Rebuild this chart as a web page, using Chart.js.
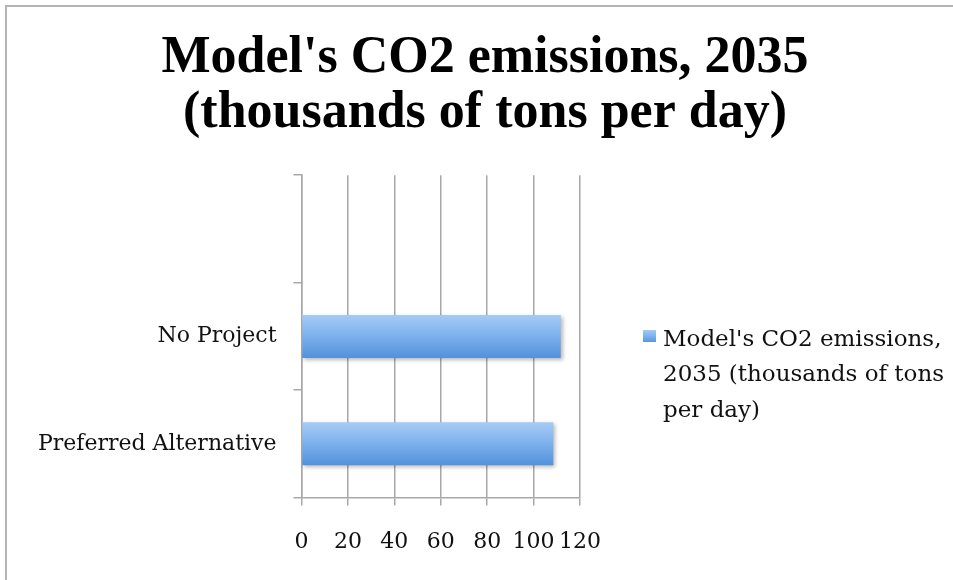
<!DOCTYPE html>
<html>
<head>
<meta charset="utf-8">
<title>Model's CO2 emissions, 2035</title>
<script src="https://cdn.jsdelivr.net/npm/chart.js@4"></script>
<style>
    html, body { margin: 0; padding: 0; background: #fff; overflow: hidden; }
    .frame {
        position: absolute;
        left: 5px;
        top: 5px;
        width: 956px;
        height: 573px;
        border-left: 2px solid #b4b4b4;
        border-top: 2px solid #b4b4b4;
    }
    #co2Chart { display: block; }
</style>
</head>
<body>
<div class="frame">
    <canvas id="co2Chart" width="956" height="573"></canvas>
</div>
<script>
// 데이터
const categories = ['', 'No Project', 'Preferred Alternative'];
const emissions = [null, 111.7, 108.5];
const seriesName = "Model's CO2 emissions, 2035 (thousands of tons per day)";
const titleLines = ["Model's CO2 emissions, 2035", '(thousands of tons per day)'];
const legendLines = ["Model's CO2 emissions,", '2035 (thousands of tons', 'per day)'];
const xTicks = [0, 20, 40, 60, 80, 100, 120];

const serif = "'DejaVu Serif', 'Liberation Serif', serif";
const gridColor = '#a8a8a8';

// 막대 그라데이션 (위: 밝은 파랑, 아래: 진한 파랑)
function barGradient(ctx, top, bottom) {
    const g = ctx.createLinearGradient(0, top, 0, bottom);
    g.addColorStop(0, '#a6cbf6');
    g.addColorStop(0.5, '#7cb0ec');
    g.addColorStop(1, '#5391dc');
    return g;
}

// 막대 그림자
const shadowPlugin = {
    id: 'barShadow',
    beforeDatasetsDraw(chart) {
        const ctx = chart.ctx;
        ctx.save();
        ctx.shadowColor = 'rgba(0, 0, 0, 0.28)';
        ctx.shadowBlur = 4;
        ctx.shadowOffsetX = 2;
        ctx.shadowOffsetY = 2;
    },
    afterDatasetsDraw(chart) {
        chart.ctx.restore();
    }
};

// 오른쪽 범례 (여러 줄)
const sideLegend = {
    id: 'sideLegend',
    afterDraw(chart) {
        const ctx = chart.ctx;
        const x = chart.chartArea.right + 63;
        const y = 339;
        ctx.save();
        ctx.fillStyle = barGradient(ctx, y - 16, y - 3);
        ctx.fillRect(x, y - 16, 13, 12);
        ctx.fillStyle = '#111';
        ctx.font = '23px ' + serif;
        ctx.textBaseline = 'alphabetic';
        legendLines.forEach((line, i) => {
            ctx.fillText(line, x + 20, y + i * 35.3);
        });
        ctx.restore();
    }
};

const ctx = document.getElementById('co2Chart').getContext('2d');

new Chart(ctx, {
    type: 'bar',
    data: {
        labels: categories,
        datasets: [{
            label: seriesName,
            data: emissions,
            backgroundColor: function(context) {
                const chart = context.chart;
                if (!chart.chartArea) return '#7cb0ec';
                const y = chart.scales.y.getPixelForValue(context.dataIndex);
                const half = (chart.chartArea.height / categories.length) * 0.4 / 2;
                return barGradient(chart.ctx, y - half, y + half);
            },
            borderWidth: 0,
            categoryPercentage: 1,
            barPercentage: 0.4
        }]
    },
    plugins: [shadowPlugin, sideLegend],
    options: {
        indexAxis: 'y',
        responsive: false,
        animation: false,
        layout: {
            padding: { left: 0, right: 0, top: 0, bottom: 2 }
        },
        plugins: {
            legend: { display: false },
            tooltip: { enabled: false },
            title: {
                display: true,
                align: 'center',
                text: titleLines,
                color: '#000',
                font: { family: "'Liberation Serif', serif", size: 52, weight: 'bold', lineHeight: 1.04 },
                padding: { top: 25, bottom: 35 }
            }
        },
        scales: {
            x: {
                min: 0,
                max: 120,
                afterBuildTicks: function(scale) {
                    scale.ticks = xTicks.map(v => ({ value: v }));
                },
                grid: {
                    color: gridColor,
                    lineWidth: 1.5,
                    drawTicks: true,
                    tickLength: 8
                },
                border: { color: gridColor, width: 1.5 },
                ticks: {
                    color: '#111',
                    padding: 23,
                    maxRotation: 0,
                    minRotation: 0,
                    autoSkip: false,
                    font: { family: serif, size: 22 }
                }
            },
            y: {
                afterFit: function(scale) {
                    scale.width = 294.5;
                },
                grid: {
                    offset: true,
                    drawOnChartArea: false,
                    drawTicks: true,
                    tickLength: 8,
                    color: gridColor,
                    lineWidth: 1.5
                },
                border: { color: gridColor, width: 1.5 },
                ticks: {
                    color: '#111',
                    padding: 17,
                    font: { family: serif, size: 22 }
                }
            },
            // 범례 자리를 비워 두는 빈 축
            legendSpace: {
                axis: 'y',
                type: 'linear',
                position: 'right',
                afterFit: function(scale) {
                    scale.width = 383;
                },
                grid: { display: false },
                border: { display: false },
                ticks: { display: false }
            }
        }
    }
});
</script>
</body>
</html>
